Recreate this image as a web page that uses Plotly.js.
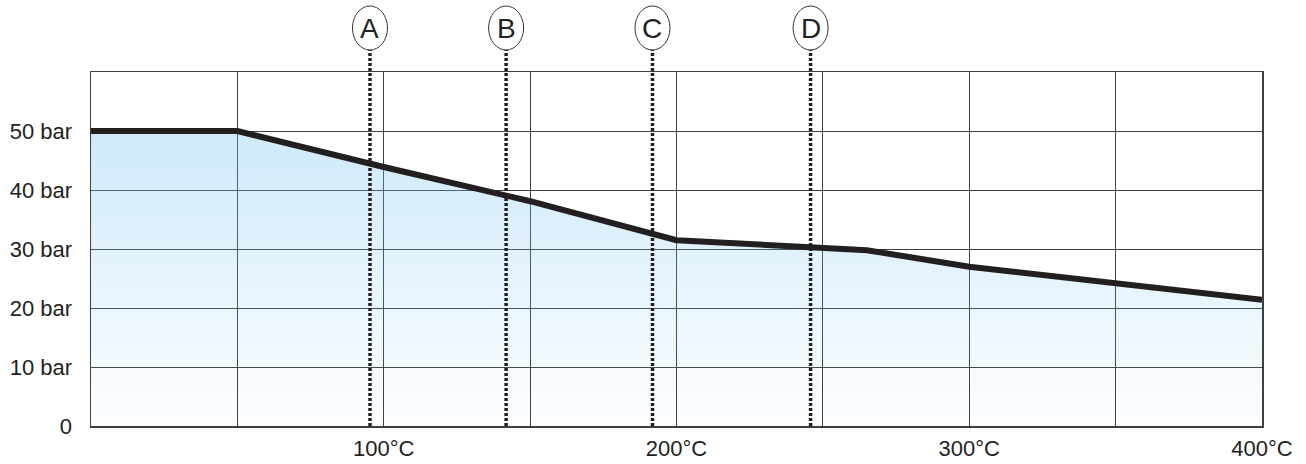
<!DOCTYPE html>
<html>
<head>
<meta charset="utf-8">
<script src="https://cdn.plot.ly/plotly-3.0.1.min.js"></script>
<style>html,body{margin:0;padding:0;background:#fff;}#chart{width:1306px;height:464px;}</style>
</head>
<body>
<div id="chart"></div>
<script>
// Data
const temperatures = [0, 50, 100, 150, 200, 265, 300, 350, 400];
const pressures    = [50, 50, 43.9, 38.1, 31.5, 29.8, 27.0, 24.1, 21.4];

const markerLabels = ['A', 'B', 'C', 'D'];
const markerTemps  = [95.3, 141.8, 191.8, 245.8];

const xTickVals = [0, 50, 100, 150, 200, 250, 300, 350, 400];
const xTickText = ['', '', '100°C', '', '200°C', '', '300°C', '', '400°C'];
const yTickVals = [0, 10, 20, 30, 40, 50, 60];
const yTickText = ['0', '10 bar', '20 bar', '30 bar', '40 bar', '50 bar', ''];

const ink = '#231f20';
const gridCol = '#3f3f3f';

const trace = {
  x: temperatures,
  y: pressures,
  type: 'scatter',
  mode: 'lines',
  line: {color: ink, width: 6},
  fill: 'tozeroy',
  fillgradient: {
    type: 'vertical',
    start: 0,
    stop: 50,
    colorscale: [[0, 'rgba(120,195,240,0.02)'], [1, 'rgba(120,195,240,0.36)']]
  },
  hoverinfo: 'skip'
};

const shapes = [];
const annotations = [];
markerTemps.forEach((t, i) => {
  shapes.push({
    type: 'line', xref: 'x', yref: 'paper',
    x0: t, x1: t, y0: 0, y1: 1.062,
    line: {color: ink, width: 3.5, dash: '3px,2px'},
    layer: 'above'
  });
  shapes.push({
    type: 'circle', xref: 'x', yref: 'paper',
    xsizemode: 'pixel', ysizemode: 'pixel',
    xanchor: t, yanchor: 1,
    x0: -17.5, x1: 17.5, y0: 22, y1: 66,
    line: {color: '#333', width: 1},
    fillcolor: '#fff',
    layer: 'above'
  });
  annotations.push({
    xref: 'x', yref: 'paper', x: t, y: 1,
    yshift: 44, showarrow: false,
    text: markerLabels[i],
    font: {family: 'Liberation Sans, Arial, sans-serif', size: 28, color: '#222'},
    xanchor: 'center', yanchor: 'middle'
  });
});

const layout = {
  width: 1306, height: 464,
  margin: {l: 91, r: 44, t: 72, b: 38},
  paper_bgcolor: '#fff',
  plot_bgcolor: '#fff',
  showlegend: false,
  font: {family: 'Liberation Sans, Arial, sans-serif', size: 22, color: '#222'},
  xaxis: {
    range: [0, 400],
    tickvals: xTickVals, ticktext: xTickText,
    showgrid: true, gridcolor: gridCol, gridwidth: 1,
    zeroline: false,
    showline: true, mirror: true, linecolor: gridCol, linewidth: 1.5,
    ticks: '', ticklabelstandoff: 2,
    fixedrange: true
  },
  yaxis: {
    range: [0, 60],
    tickvals: yTickVals, ticktext: yTickText,
    showgrid: true, gridcolor: gridCol, gridwidth: 1,
    zeroline: false,
    showline: true, mirror: true, linecolor: gridCol, linewidth: 1.5,
    ticks: '', ticklabelstandoff: 13,
    fixedrange: true
  },
  shapes: shapes,
  annotations: annotations
};

Plotly.newPlot('chart', [trace], layout, {displayModeBar: false, staticPlot: true});
</script>
</body>
</html>
